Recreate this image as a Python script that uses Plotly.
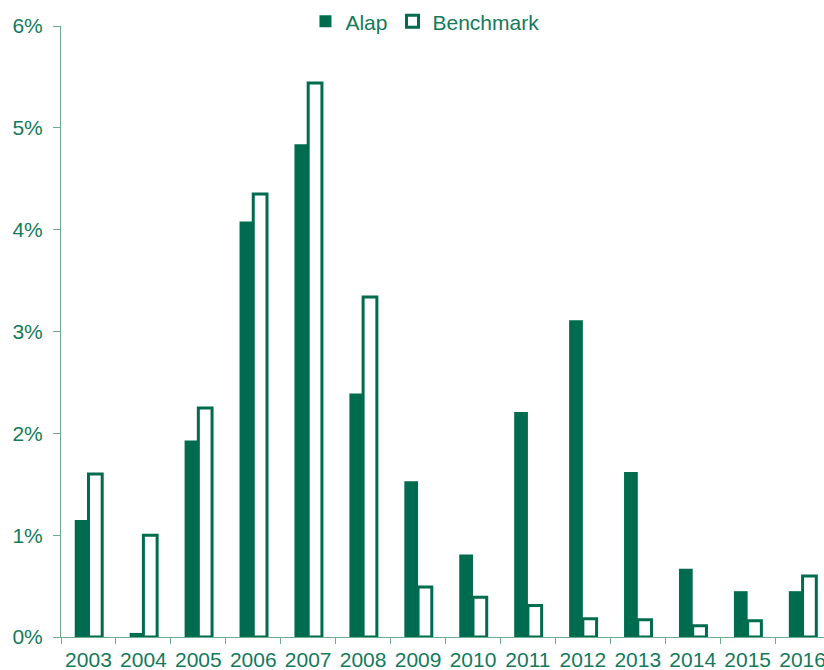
import plotly.graph_objects as go

years = ["2003", "2004", "2005", "2006", "2007", "2008", "2009", "2010",
         "2011", "2012", "2013", "2014", "2015", "2016"]
alap = [1.15, 0.04, 1.93, 4.08, 4.84, 2.39, 1.53, 0.81, 2.21, 3.11, 1.62, 0.67, 0.45, 0.45]
benchmark = [1.60, 1.00, 2.25, 4.35, 5.44, 3.34, 0.49, 0.39, 0.31, 0.18, 0.17, 0.11, 0.16, 0.60]
ytickvals = [0, 1, 2, 3, 4, 5, 6]
yticktext = ["0%", "1%", "2%", "3%", "4%", "5%", "6%"]

green = "#006c4f"
text_green = "#137a5b"
axis_green = "#6aae8e"

fig = go.Figure()
fig.add_trace(go.Bar(x=years, y=alap, name="Alap",
                     marker=dict(color=green, line=dict(width=0))))
fig.add_trace(go.Bar(x=years, y=benchmark, name="Benchmark",
                     marker=dict(color="white", line=dict(color=green, width=3))))

fig.update_layout(
    width=824, height=670,
    margin=dict(l=61, r=0, t=26, b=33, autoexpand=False),
    paper_bgcolor="white", plot_bgcolor="white",
    barmode="group", bargap=0.5, bargroupgap=0,
    font=dict(family="Liberation Sans, Arial, sans-serif", size=21, color=text_green),
    showlegend=True,
    legend=dict(orientation="h", x=0.477, xanchor="center", y=1.007, yanchor="middle",
                font=dict(size=21, color=text_green), bgcolor="rgba(0,0,0,0)",
                itemwidth=30, traceorder="normal"),
    xaxis=dict(type="category", range=[-0.5, 13.39], showline=True, linecolor=axis_green,
               linewidth=1, ticks="outside", tickson="boundaries", ticklen=6,
               tickcolor=axis_green, showgrid=False, zeroline=False, tickangle=0,
               tickfont=dict(size=21, color=text_green), ticklabelstandoff=4),
    yaxis=dict(range=[0, 6], tickvals=ytickvals, ticktext=yticktext, showline=True,
               linecolor=axis_green, linewidth=1, ticks="outside", ticklen=7,
               tickcolor=axis_green, showgrid=False, zeroline=False,
               tickfont=dict(size=21, color=text_green), ticklabelstandoff=6),
)

fig.write_html("out.html", config={"displayModeBar": False},
               post_script="document.body.style.margin='0';")
